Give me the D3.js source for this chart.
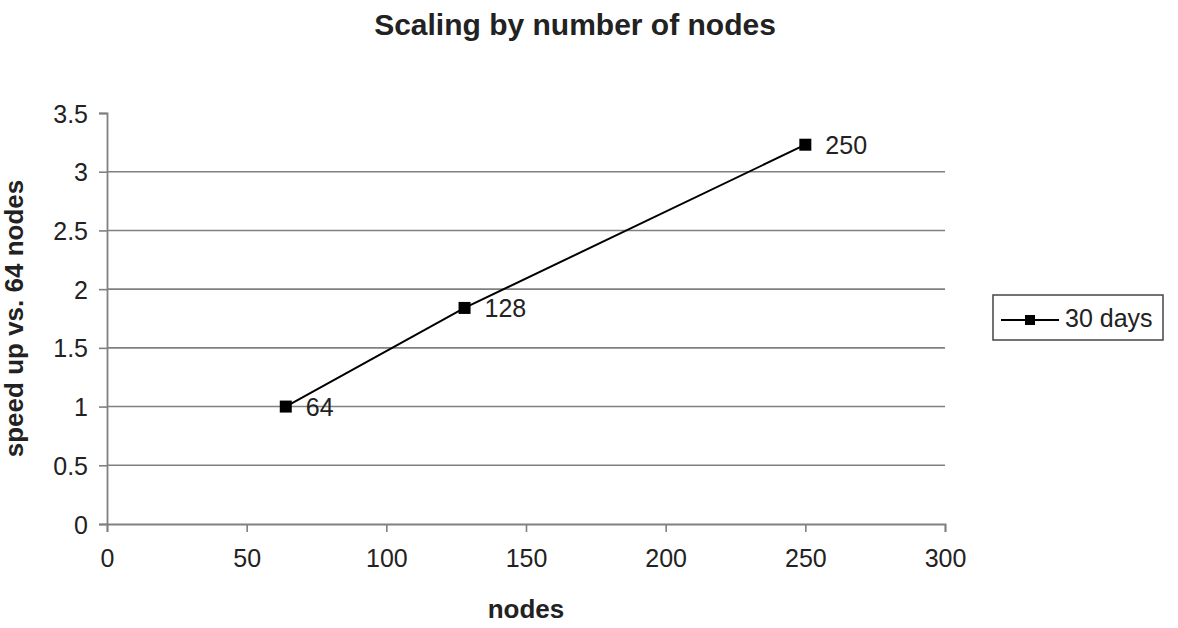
<!DOCTYPE html>
<html>
<head>
<meta charset="utf-8">
<script src="https://cdn.jsdelivr.net/npm/d3@7"></script>
<style>
  html, body { margin: 0; padding: 0; background: #fff; }
  svg { display: block; font-family: "Liberation Sans", Arial, sans-serif; }
</style>
</head>
<body>
<div id="chart"></div>
<script>
// data
const nodes = [64, 128, 250];
const speedup = [1.0, 1.84, 3.23];
const pointLabels = ["64", "128", "250"];
const xTicks = [0, 50, 100, 150, 200, 250, 300];
const yTicks = [0, 0.5, 1, 1.5, 2, 2.5, 3, 3.5];
const seriesName = "30 days";

const width = 1178, height = 628;
const margin = {top: 113, right: 233, bottom: 104, left: 107};

const svg = d3.select("#chart").append("svg")
  .attr("width", width).attr("height", height);

const x = d3.scaleLinear().domain([0, 300]).range([margin.left, width - margin.right]);
const y = d3.scaleLinear().domain([0, 3.5]).range([height - margin.bottom, margin.top]);

const grey = "#808080";

// gridlines (not at 0 or top)
svg.append("g").selectAll("line")
  .data(yTicks.filter(d => d > 0 && d < 3.5))
  .join("line")
    .attr("x1", x(0)).attr("x2", x(300))
    .attr("y1", d => y(d)).attr("y2", d => y(d))
    .attr("stroke", grey).attr("stroke-width", 1.6);

// axes
const xAxis = d3.axisBottom(x).tickValues(xTicks).tickSize(8).tickPadding(17);
const yAxis = d3.axisLeft(y).tickValues(yTicks).tickSize(8).tickPadding(11)
  .tickFormat(d => String(d));

const gx = svg.append("g")
  .attr("transform", `translate(0,${y(0)})`)
  .call(xAxis);
const gy = svg.append("g")
  .attr("transform", `translate(${x(0)},0)`)
  .call(yAxis);

[gx, gy].forEach(g => {
  g.select(".domain").attr("stroke", grey).attr("stroke-width", 1.8);
  g.selectAll(".tick line").attr("stroke", grey).attr("stroke-width", 1.6);
  g.selectAll(".tick text")
    .attr("fill", "#222")
    .style("font-size", "25px")
    .style("font-family", "Liberation Sans, Arial, sans-serif");
});
gy.selectAll(".tick text").attr("dy", "0.36em");

// series line
const pts = nodes.map((n, i) => ({n, v: speedup[i], label: pointLabels[i]}));
svg.append("path")
  .datum(pts)
  .attr("fill", "none")
  .attr("stroke", "#000")
  .attr("stroke-width", 2)
  .attr("d", d3.line().x(d => x(d.n)).y(d => y(d.v)));

// markers
const ms = 12;
svg.append("g").selectAll("rect")
  .data(pts)
  .join("rect")
    .attr("x", d => x(d.n) - ms / 2)
    .attr("y", d => y(d.v) - ms / 2)
    .attr("width", ms).attr("height", ms)
    .attr("fill", "#000");

// point labels
svg.append("g").selectAll("text")
  .data(pts)
  .join("text")
    .attr("x", d => x(d.n) + 20)
    .attr("y", d => y(d.v) + 9)
    .attr("fill", "#222")
    .style("font-size", "25px")
    .text(d => d.label);

// title
svg.append("text")
  .attr("x", 575).attr("y", 35)
  .attr("text-anchor", "middle")
  .attr("fill", "#222")
  .style("font-size", "30px")
  .style("font-weight", "bold")
  .text("Scaling by number of nodes");

// axis titles
svg.append("text")
  .attr("x", (x(0) + x(300)) / 2).attr("y", 618)
  .attr("text-anchor", "middle")
  .attr("fill", "#222")
  .style("font-size", "26px")
  .style("font-weight", "bold")
  .text("nodes");

svg.append("text")
  .attr("transform", `translate(23,${(y(0) + y(3.5)) / 2}) rotate(-90)`)
  .attr("text-anchor", "middle")
  .attr("fill", "#222")
  .style("font-size", "26px")
  .style("font-weight", "bold")
  .text("speed up vs. 64 nodes");

// legend
const lg = svg.append("g").attr("transform", "translate(993,295)");
lg.append("rect")
  .attr("width", 170).attr("height", 45)
  .attr("fill", "#fff")
  .attr("stroke", "#444").attr("stroke-width", 1.5);
lg.append("line")
  .attr("x1", 8).attr("x2", 66)
  .attr("y1", 25).attr("y2", 25)
  .attr("stroke", "#000").attr("stroke-width", 2);
lg.append("rect")
  .attr("x", 32).attr("y", 20)
  .attr("width", 10).attr("height", 10)
  .attr("fill", "#000");
lg.append("text")
  .attr("x", 72).attr("y", 32)
  .attr("fill", "#222")
  .style("font-size", "25px")
  .text(seriesName);
</script>
</body>
</html>
